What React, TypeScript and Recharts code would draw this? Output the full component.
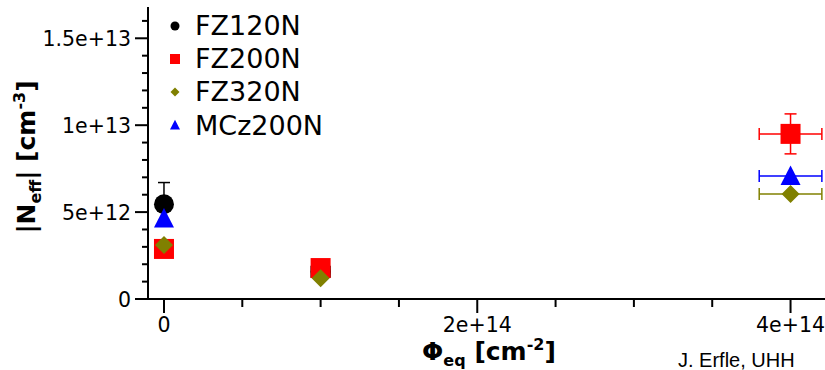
import { ScatterChart, Scatter, XAxis, YAxis, ErrorBar } from 'recharts'

// fluence points per sensor type: x = fluence, y = |Neff|, ex/ey = errors
const fz120n = [
  { x: 0, y: 5.45e12, ex: 0, ey: 1.25e12 },
  { x: 1e14, y: 1.57e12, ex: 6e12, ey: 0 },
]
const fz200n = [
  { x: 0, y: 2.88e12, ex: 0, ey: 0 },
  { x: 1e14, y: 1.78e12, ex: 0, ey: 0 },
  { x: 4e14, y: 9.5e12, ex: 2e13, ey: 1.15e12 },
]
const fz320n = [
  { x: 0, y: 3.1e12, ex: 0, ey: 0 },
  { x: 1e14, y: 1.2e12, ex: 0, ey: 0 },
  { x: 4e14, y: 6.04e12, ex: 2e13, ey: 0 },
]
const mcz200n = [
  { x: 0, y: 4.63e12, ex: 0, ey: 0 },
  { x: 4e14, y: 7.08e12, ex: 2e13, ey: 0 },
]

const xTicks = [0, 5e13, 1e14, 1.5e14, 2e14, 2.5e14, 3e14, 3.5e14, 4e14]
const xMajor = [0, 2e14, 4e14]
const xLabels = ['0', '2e+14', '4e+14']

const yTicks = [
  0, 1e12, 2e12, 3e12, 4e12, 5e12, 6e12, 7e12, 8e12, 9e12,
  1e13, 1.1e13, 1.2e13, 1.3e13, 1.4e13, 1.5e13, 1.6e13,
]
const yMajor = [0, 5e12, 1e13, 1.5e13]
const yLabels = ['0', '5e+12', '1e+13', '1.5e+13']

const RED = '#ff0000'
const OLIVE = '#808000'
const BLUE = '#0000ff'
const BLACK = '#000000'
const FONT = '"DejaVu Sans", Verdana, sans-serif'

type Kind = 'circle' | 'square' | 'diamond' | 'triangle'

function Marker({ kind, cx, cy, r, color }: { kind: Kind; cx: number; cy: number; r: number; color: string }) {
  if (kind === 'circle') return <circle cx={cx} cy={cy} r={r} fill={color} />
  if (kind === 'square') return <rect x={cx - r} y={cy - r} width={2 * r} height={2 * r} fill={color} />
  if (kind === 'diamond')
    return <polygon points={`${cx},${cy - r * 0.9} ${cx + r * 0.9},${cy} ${cx},${cy + r * 0.9} ${cx - r * 0.9},${cy}`} fill={color} />
  return <polygon points={`${cx},${cy - r * 1.05} ${cx + r},${cy + r * 0.9} ${cx - r},${cy + r * 0.9}`} fill={color} />
}

const series: { name: string; data: typeof fz120n; kind: Kind; color: string }[] = [
  { name: 'FZ120N', data: fz120n, kind: 'circle', color: BLACK },
  { name: 'FZ200N', data: fz200n, kind: 'square', color: RED },
  { name: 'FZ320N', data: fz320n, kind: 'diamond', color: OLIVE },
  { name: 'MCz200N', data: mcz200n, kind: 'triangle', color: BLUE },
]

function XTick({ x, y, payload }: any) {
  const i = xMajor.indexOf(payload.value)
  const major = i >= 0
  return (
    <g>
      <line x1={x} x2={x} y1={y} y2={y + (major ? 14 : 8)} stroke={BLACK} strokeWidth={2} />
      {major && (
        <text x={x} y={y + 32.5} textAnchor="middle" fontFamily={FONT} fontSize={20.5} fill={BLACK}>
          {xLabels[i]}
        </text>
      )}
    </g>
  )
}

function YTick({ x, y, payload }: any) {
  const i = yMajor.indexOf(payload.value)
  const major = i >= 0
  return (
    <g>
      <line x1={x} x2={x - (major ? 13 : 6)} y1={y} y2={y} stroke={BLACK} strokeWidth={2} />
      {major && (
        <text x={x - 17} y={y + 7.5} textAnchor="end" fontFamily={FONT} fontSize={20.5} fill={BLACK}>
          {yLabels[i]}
        </text>
      )}
    </g>
  )
}

function XTitle() {
  return (
    <g>
      <text x={489} y={360} textAnchor="middle" fontFamily={FONT} fontWeight="bold" fontSize={25} fill={BLACK}>
        Φ<tspan fontSize={16} dy={6}>eq</tspan>
        <tspan dy={-6}> [cm</tspan>
        <tspan fontSize={16} dy={-10}>-2</tspan>
        <tspan dy={10}>]</tspan>
      </text>
      <text x={678} y={367} fontFamily='"Liberation Sans", Arial, sans-serif' fontSize={20} fill={BLACK}>
        J. Erfle, UHH
      </text>
    </g>
  )
}

function YTitle() {
  return (
    <text
      transform="translate(35,157) rotate(-90)"
      textAnchor="middle"
      fontFamily={FONT}
      fontWeight="bold"
      fontSize={25}
      fill={BLACK}
    >
      |N<tspan fontSize={16} dy={6}>eff</tspan>
      <tspan dy={-6}>| [cm</tspan>
      <tspan fontSize={16} dy={-10}>-3</tspan>
      <tspan dy={10}>]</tspan>
    </text>
  )
}

function SeriesLegend() {
  return (
    <div style={{ position: 'absolute', left: 164, top: 9, fontFamily: FONT, fontSize: 27, lineHeight: '33.2px' }}>
      {series.map((s) => (
        <div key={s.name} style={{ display: 'flex', alignItems: 'center', height: 33.2 }}>
          <svg width={22} height={22} style={{ marginRight: 9 }}>
            <Marker kind={s.kind} cx={11} cy={11} r={s.kind === 'circle' ? 4.5 : 5} color={s.color} />
          </svg>
          <span>{s.name}</span>
        </div>
      ))}
    </div>
  )
}

export default function App() {
  return (
    <div style={{ position: 'absolute', left: 0, top: 0, width: 825, height: 370, background: '#fff' }}>
      <ScatterChart width={825} height={370} margin={{ top: 7, right: 0, bottom: 0, left: 0 }}>
        <XAxis
          type="number"
          dataKey="x"
          domain={[-1.02e13, 4.22e14]}
          allowDataOverflow
          ticks={xTicks}
          interval={0}
          tickSize={0}
          tickMargin={0}
          tickLine={false}
          tick={<XTick />}
          axisLine={{ stroke: BLACK, strokeWidth: 2 }}
          height={71}
          label={{ content: () => <XTitle /> }}
        />
        <YAxis
          type="number"
          dataKey="y"
          domain={[0, 1.68e13]}
          allowDataOverflow
          ticks={yTicks}
          interval={0}
          tickSize={0}
          tickMargin={0}
          tickLine={false}
          tick={<YTick />}
          axisLine={{ stroke: BLACK, strokeWidth: 2 }}
          width={148}
          label={{ content: () => <YTitle /> }}
        />
        {series.map((s) => (
          <Scatter
            key={s.name}
            name={s.name}
            data={s.data}
            isAnimationActive={false}
            shape={(p: any) => <Marker kind={s.kind} cx={p.cx} cy={p.cy} r={10} color={s.color} />}
          >
            <ErrorBar dataKey="ey" direction="y" width={6} stroke={s.color} strokeWidth={1.5} />
            <ErrorBar dataKey="ex" direction="x" width={6} stroke={s.color} strokeWidth={1.5} />
          </Scatter>
        ))}
      </ScatterChart>
      <SeriesLegend />
    </div>
  )
}
